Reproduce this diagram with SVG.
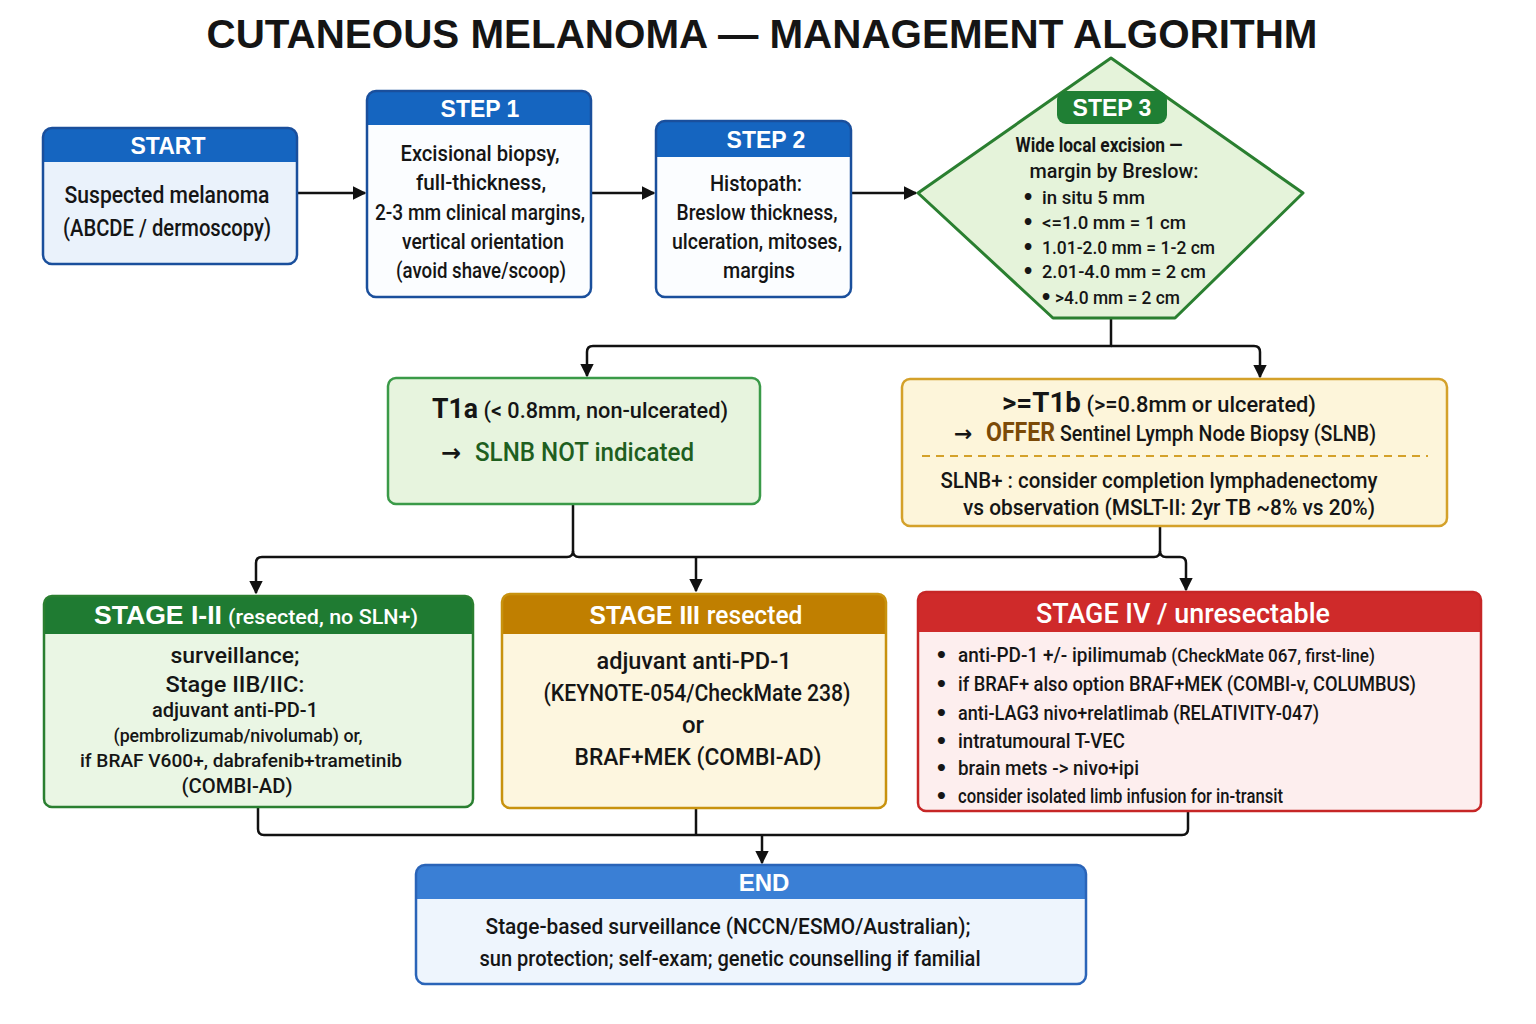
<svg xmlns="http://www.w3.org/2000/svg" width="1536" height="1024" viewBox="0 0 1536 1024">
<defs>
<marker id="arr" viewBox="0 0 10 10" refX="9" refY="5" markerWidth="5.5" markerHeight="5.5" markerUnits="strokeWidth" orient="auto">
<path d="M0,0 L10,5 L0,10 z" fill="#111"/>
</marker>
<style>
.t{font-family:"Liberation Sans",Arial,sans-serif;font-weight:700;fill:#151515}
.h{font-family:"Liberation Sans",Arial,sans-serif;font-weight:700;fill:#fff;text-anchor:middle}
.b{font-family:Roboto,"Liberation Sans",Arial,sans-serif;font-weight:500;fill:#151515}
.c{text-anchor:middle}
.bb{font-weight:700}
.ar{font-family:"DejaVu Sans",sans-serif;font-weight:700;fill:#151515}
.bu{font-family:"DejaVu Sans",sans-serif;font-weight:700}
.conn{fill:none;stroke:#111;stroke-width:2.5;stroke-linejoin:round}
</style>
</defs>
<rect width="1536" height="1024" fill="#fff"/>
<text class="t c" x="762" y="48" font-size="41" textLength="1111" lengthAdjust="spacingAndGlyphs">CUTANEOUS MELANOMA — MANAGEMENT ALGORITHM</text>

<g id="connectors">
<path class="conn" d="M297 193 H365" marker-end="url(#arr)"/>
<path class="conn" d="M591 193 H654" marker-end="url(#arr)"/>
<path class="conn" d="M851 193 H916" marker-end="url(#arr)"/>
<path class="conn" d="M1111 318 V346 H593 Q587 346 587 352 V376" marker-end="url(#arr)"/>
<path class="conn" d="M1111 346 H1254 Q1260 346 1260 352 V377" marker-end="url(#arr)"/>
<path class="conn" d="M573 504 V551 Q573 557 567 557 H262 Q256 557 256 563 V593" marker-end="url(#arr)"/>
<path class="conn" d="M573 551 Q573 557 579 557 H1154 Q1160 557 1160 551 V526"/>
<path class="conn" d="M1160 551 Q1160 557 1166 557 H1180 Q1186 557 1186 563 V590" marker-end="url(#arr)"/>
<path class="conn" d="M696 557 V591" marker-end="url(#arr)"/>
<path class="conn" d="M258 807 V829 Q258 835 264 835 H1182 Q1188 835 1188 829 V811"/>
<path class="conn" d="M696 808 V835"/>
<path class="conn" d="M762 835 V863" marker-end="url(#arr)"/>
</g>

<g id="start">
<rect x="43" y="128" width="254" height="136" rx="9" fill="#eaf2fb"/>
<path d="M43 162 V137 Q43 128 52 128 H288 Q297 128 297 137 V162 Z" fill="#1565c0"/>
<rect x="43" y="128" width="254" height="136" rx="9" fill="none" stroke="#1a4f9c" stroke-width="2.5"/>
<text class="h" x="168" y="154" font-size="23">START</text>
<text class="b c" x="167" y="203" font-size="24" textLength="205" lengthAdjust="spacingAndGlyphs">Suspected melanoma</text>
<text class="b c" x="167" y="236" font-size="24" textLength="208" lengthAdjust="spacingAndGlyphs">(ABCDE / dermoscopy)</text>
</g>

<g id="step1">
<rect x="367" y="91" width="224" height="206" rx="9" fill="#fbfdff"/>
<path d="M367 125 V100 Q367 91 376 91 H582 Q591 91 591 100 V125 Z" fill="#1565c0"/>
<rect x="367" y="91" width="224" height="206" rx="9" fill="none" stroke="#1a4f9c" stroke-width="2.5"/>
<text class="h" x="480" y="117" font-size="23">STEP 1</text>
<text class="b c" x="480" y="161" font-size="22" textLength="159" lengthAdjust="spacingAndGlyphs">Excisional biopsy,</text>
<text class="b c" x="481" y="190" font-size="22" textLength="130" lengthAdjust="spacingAndGlyphs">full-thickness,</text>
<text class="b c" x="480" y="220" font-size="22" textLength="210" lengthAdjust="spacingAndGlyphs">2-3 mm clinical margins,</text>
<text class="b c" x="483" y="249" font-size="22" textLength="162" lengthAdjust="spacingAndGlyphs">vertical orientation</text>
<text class="b c" x="481" y="278" font-size="22" textLength="170" lengthAdjust="spacingAndGlyphs">(avoid shave/scoop)</text>
</g>

<g id="step2">
<rect x="656" y="121" width="195" height="176" rx="9" fill="#fbfdff"/>
<path d="M656 157 V130 Q656 121 665 121 H842 Q851 121 851 130 V157 Z" fill="#1565c0"/>
<rect x="656" y="121" width="195" height="176" rx="9" fill="none" stroke="#1a4f9c" stroke-width="2.5"/>
<text class="h" x="766" y="148" font-size="23">STEP 2</text>
<text class="b c" x="756" y="191" font-size="22" textLength="92" lengthAdjust="spacingAndGlyphs">Histopath:</text>
<text class="b c" x="757" y="220" font-size="22" textLength="161" lengthAdjust="spacingAndGlyphs">Breslow thickness,</text>
<text class="b c" x="757" y="249" font-size="22" textLength="170" lengthAdjust="spacingAndGlyphs">ulceration, mitoses,</text>
<text class="b c" x="759" y="278" font-size="22" textLength="72" lengthAdjust="spacingAndGlyphs">margins</text>
</g>

<g id="step3">
<path d="M1111 58 L1303 193 L1175 318 H1053 L918 193 Z" fill="#e5f3da" stroke="#2a7f30" stroke-width="3" stroke-linejoin="round"/>
<rect x="1057" y="91" width="110" height="33" rx="9" fill="#1f7f34"/>
<text class="h" x="1112" y="116" font-size="23">STEP 3</text>
<text class="b c bb" x="1099" y="152" font-size="20" textLength="167" lengthAdjust="spacingAndGlyphs">Wide local excision —</text>
<text class="b c" x="1114" y="178" font-size="20" textLength="169" lengthAdjust="spacingAndGlyphs">margin by Breslow:</text>
<g class="b" font-size="19">
<text class="bu" x="1022" y="204">•</text><text x="1042" y="204" textLength="103" lengthAdjust="spacingAndGlyphs">in situ 5 mm</text>
<text class="bu" x="1022" y="229">•</text><text x="1042" y="229" textLength="144" lengthAdjust="spacingAndGlyphs">&lt;=1.0 mm = 1 cm</text>
<text class="bu" x="1022" y="254">•</text><text x="1042" y="254" textLength="173" lengthAdjust="spacingAndGlyphs">1.01-2.0 mm = 1-2 cm</text>
<text class="bu" x="1022" y="278">•</text><text x="1042" y="278" textLength="164" lengthAdjust="spacingAndGlyphs">2.01-4.0 mm = 2 cm</text>
<text class="bu" x="1040" y="304">•</text><text x="1055" y="304" textLength="125" lengthAdjust="spacingAndGlyphs">&gt;4.0 mm = 2 cm</text>
</g>
</g>

<g id="t1a">
<rect x="388" y="378" width="372" height="126" rx="8" fill="#e7f4de" stroke="#3a9a48" stroke-width="2.5"/>
<text class="b c" x="580" y="418" font-size="22" textLength="296" lengthAdjust="spacingAndGlyphs"><tspan class="bb" font-size="27">T1a</tspan> (&lt; 0.8mm, non-ulcerated)</text>
<text class="ar" x="441" y="461" font-size="24">→</text>
<text class="b" x="475" y="461" font-size="26" fill="#1f5f1f" textLength="219" lengthAdjust="spacingAndGlyphs" style="fill:#1f5f1f">SLNB NOT indicated</text>
</g>

<g id="t1b">
<rect x="902" y="379" width="545" height="147" rx="8" fill="#fdf5da" stroke="#d4a12a" stroke-width="2.5"/>
<text class="b c" x="1159" y="412" font-size="22" textLength="314" lengthAdjust="spacingAndGlyphs"><tspan class="bb" font-size="28">&gt;=T1b</tspan> (&gt;=0.8mm or ulcerated)</text>
<text class="ar" x="954" y="441" font-size="22">→</text>
<text class="b" x="986" y="441" font-size="22" textLength="390" lengthAdjust="spacingAndGlyphs"><tspan class="bb" font-size="26" style="fill:#7b4a08">OFFER</tspan> Sentinel Lymph Node Biopsy (SLNB)</text>
<line x1="922" y1="456" x2="1428" y2="456" stroke="#d4a12a" stroke-width="2" stroke-dasharray="8 6"/>
<text class="b c" x="1159" y="488" font-size="22" textLength="437" lengthAdjust="spacingAndGlyphs">SLNB+ : consider completion lymphadenectomy</text>
<text class="b c" x="1169" y="515" font-size="22" textLength="412" lengthAdjust="spacingAndGlyphs">vs observation (MSLT-II: 2yr TB ~8% vs 20%)</text>
</g>

<g id="stage12">
<rect x="44" y="596" width="429" height="211" rx="8" fill="#eaf6e4"/>
<path d="M44 634 V604 Q44 596 52 596 H465 Q473 596 473 604 V634 Z" fill="#1f7b32"/>
<rect x="44" y="596" width="429" height="211" rx="8" fill="none" stroke="#2a7f30" stroke-width="2.5"/>
<text class="h" x="158" y="624" font-size="26" textLength="128" lengthAdjust="spacingAndGlyphs">STAGE I-II</text>
<text class="h" x="323" y="624" font-size="21" font-family="Roboto, Liberation Sans, sans-serif" font-weight="500" textLength="190" lengthAdjust="spacingAndGlyphs" style="font-family:Roboto,'Liberation Sans',sans-serif;font-weight:500">(resected, no SLN+)</text>
<text class="b c" x="235" y="663" font-size="22" textLength="129" lengthAdjust="spacingAndGlyphs">surveillance;</text>
<text class="b c" x="235" y="692" font-size="22" textLength="139" lengthAdjust="spacingAndGlyphs">Stage IIB/IIC:</text>
<text class="b c" x="235" y="717" font-size="20" textLength="166" lengthAdjust="spacingAndGlyphs">adjuvant anti-PD-1</text>
<text class="b c" x="238" y="742" font-size="19" textLength="249" lengthAdjust="spacingAndGlyphs">(pembrolizumab/nivolumab) or,</text>
<text class="b c" x="241" y="767" font-size="19" textLength="322" lengthAdjust="spacingAndGlyphs">if BRAF V600+, dabrafenib+trametinib</text>
<text class="b c" x="237" y="793" font-size="20" textLength="111" lengthAdjust="spacingAndGlyphs">(COMBI-AD)</text>
</g>

<g id="stage3">
<rect x="502" y="594" width="384" height="214" rx="8" fill="#fdf6df"/>
<path d="M502 634 V602 Q502 594 510 594 H878 Q886 594 886 602 V634 Z" fill="#c07f00"/>
<rect x="502" y="594" width="384" height="214" rx="8" fill="none" stroke="#c8920e" stroke-width="2.5"/>
<text class="h" x="696" y="624" font-size="26" textLength="213" lengthAdjust="spacingAndGlyphs">STAGE III <tspan style="font-family:Roboto,'Liberation Sans',sans-serif;font-weight:500">resected</tspan></text>
<text class="b c" x="694" y="669" font-size="24" textLength="195" lengthAdjust="spacingAndGlyphs">adjuvant anti-PD-1</text>
<text class="b c" x="697" y="701" font-size="24" textLength="307" lengthAdjust="spacingAndGlyphs">(KEYNOTE-054/CheckMate 238)</text>
<text class="b c" x="693" y="733" font-size="24">or</text>
<text class="b c" x="698" y="765" font-size="24" textLength="247" lengthAdjust="spacingAndGlyphs">BRAF+MEK (COMBI-AD)</text>
</g>

<g id="stage4">
<rect x="918" y="592" width="563" height="219" rx="8" fill="#fdeeee"/>
<path d="M918 632 V600 Q918 592 926 592 H1473 Q1481 592 1481 600 V632 Z" fill="#cf2a2a"/>
<rect x="918" y="592" width="563" height="219" rx="8" fill="none" stroke="#c62626" stroke-width="2.5"/>
<text class="h" x="1183" y="623" font-size="27" textLength="294" lengthAdjust="spacingAndGlyphs" style="font-family:Roboto,'Liberation Sans',sans-serif;font-weight:500">STAGE IV / unresectable</text>
<g class="b" font-size="20">
<text class="bu" x="935" y="662">•</text><text x="958" y="662" textLength="417" lengthAdjust="spacingAndGlyphs">anti-PD-1 +/- ipilimumab <tspan font-size="18">(CheckMate 067, first-line)</tspan></text>
<text class="bu" x="935" y="691">•</text><text x="958" y="691" textLength="458" lengthAdjust="spacingAndGlyphs">if BRAF+ also option BRAF+MEK (COMBI-v, COLUMBUS)</text>
<text class="bu" x="935" y="720">•</text><text x="958" y="720" textLength="361" lengthAdjust="spacingAndGlyphs">anti-LAG3 nivo+relatlimab (RELATIVITY-047)</text>
<text class="bu" x="935" y="748">•</text><text x="958" y="748" textLength="167" lengthAdjust="spacingAndGlyphs">intratumoural T-VEC</text>
<text class="bu" x="935" y="775">•</text><text x="958" y="775" textLength="181" lengthAdjust="spacingAndGlyphs">brain mets -&gt; nivo+ipi</text>
<text class="bu" x="935" y="803">•</text><text x="958" y="803" textLength="325" lengthAdjust="spacingAndGlyphs">consider isolated limb infusion for in-transit</text>
</g>
</g>

<g id="end">
<rect x="416" y="865" width="670" height="119" rx="9" fill="#eef5fd"/>
<path d="M416 899 V874 Q416 865 425 865 H1077 Q1086 865 1086 874 V899 Z" fill="#3a7fd5"/>
<rect x="416" y="865" width="670" height="119" rx="9" fill="none" stroke="#2a64b8" stroke-width="2.5"/>
<text class="h" x="764" y="891" font-size="24">END</text>
<text class="b c" x="728" y="934" font-size="22" textLength="485" lengthAdjust="spacingAndGlyphs">Stage-based surveillance (NCCN/ESMO/Australian);</text>
<text class="b c" x="730" y="966" font-size="22" textLength="501" lengthAdjust="spacingAndGlyphs">sun protection; self-exam; genetic counselling if familial</text>
</g>
</svg>
